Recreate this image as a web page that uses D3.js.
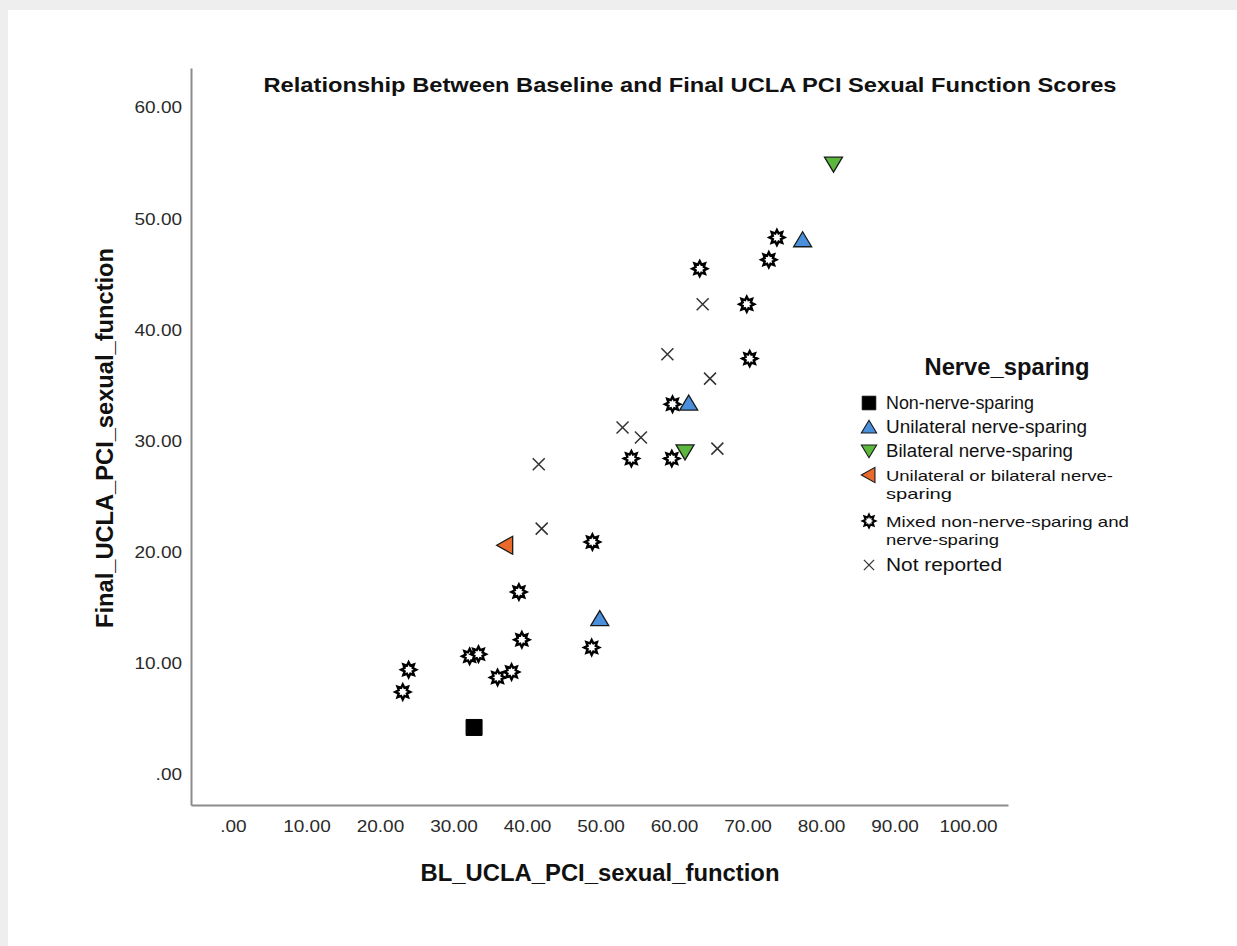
<!DOCTYPE html>
<html>
<head>
<meta charset="utf-8">
<script src="https://cdn.jsdelivr.net/npm/d3@7"></script>
<style>
  html, body { margin: 0; padding: 0; background: #eeeeee; }
  svg { display: block; }
  text { font-family: "Liberation Sans", Arial, sans-serif; }
</style>
</head>
<body>
<svg id="chart" width="1237" height="946"></svg>
<script>
// ---- Data ----
const categories = [
  "Non-nerve-sparing",
  "Unilateral nerve-sparing",
  "Bilateral nerve-sparing",
  "Unilateral or bilateral nerve-sparing",
  "Mixed non-nerve-sparing and nerve-sparing",
  "Not reported"
];
const legendLines = [
  ["Non-nerve-sparing"],
  ["Unilateral nerve-sparing"],
  ["Bilateral nerve-sparing"],
  ["Unilateral or bilateral nerve-", "sparing"],
  ["Mixed non-nerve-sparing and", "nerve-sparing"],
  ["Not reported"]
];
const nonNerveX = [32.8];
const nonNerveY = [4.1];
const unilateralX = [49.9, 62.0, 77.5];
const unilateralY = [13.9, 33.3, 48.0];
const bilateralX = [81.7, 61.5];
const bilateralY = [54.8, 28.9];
const uniOrBiX = [37.1];
const uniOrBiY = [20.5];
const mixedX = [23.1, 23.9, 32.2, 33.4, 36.0, 37.9, 39.3, 38.9, 48.8, 48.9, 54.2, 59.7, 59.8, 63.5, 69.9, 70.3, 72.9, 74.0];
const mixedY = [7.3, 9.3, 10.5, 10.7, 8.6, 9.1, 12.0, 16.3, 11.3, 20.8, 28.3, 28.3, 33.2, 45.4, 42.2, 37.3, 46.2, 48.2];
const notReportedX = [41.6, 42.0, 53.0, 55.5, 59.1, 63.9, 64.9, 65.9];
const notReportedY = [27.8, 22.0, 31.1, 30.2, 37.7, 42.2, 35.5, 29.2];
const xTicks = [0, 10, 20, 30, 40, 50, 60, 70, 80, 90, 100];
const yTicks = [0, 10, 20, 30, 40, 50, 60];
const titleText = "Relationship Between Baseline and Final UCLA PCI Sexual Function Scores";
const xLabel = "BL_UCLA_PCI_sexual_function";
const yLabel = "Final_UCLA_PCI_sexual_function";
const legendTitle = "Nerve_sparing";

const seriesX = [nonNerveX, unilateralX, bilateralX, uniOrBiX, mixedX, notReportedX];
const seriesY = [nonNerveY, unilateralY, bilateralY, uniOrBiY, mixedY, notReportedY];

// ---- Styles ----
const fills = ["#000000", "#4a8fdb", "#5cb83c", "#ea6a2c", "#ffffff", "none"];

const svg = d3.select("#chart");
svg.append("rect").attr("x", 8).attr("y", 10).attr("width", 1229).attr("height", 936).attr("fill", "#ffffff");

const x = d3.scaleLinear().domain([-5.71, 105.44]).range([191, 1008]);
const y = d3.scaleLinear().domain([-2.88, 63.46]).range([805, 68]);

const fmt = d => d === 0 ? ".00" : d.toFixed(2);

// axes
const gx = svg.append("g").attr("transform", "translate(0,805)")
  .call(d3.axisBottom(x).tickValues(xTicks).tickSize(0).tickPadding(15).tickFormat(fmt));
const gy = svg.append("g").attr("transform", "translate(191,0)")
  .call(d3.axisLeft(y).tickValues(yTicks).tickSize(0).tickPadding(9).tickFormat(fmt));
[gx, gy].forEach(g => {
  g.select(".domain").attr("stroke", "#8c8c8c").attr("stroke-width", 2);
  g.selectAll("text").attr("font-size", 19).attr("fill", "#2a2a2a")
    .attr("font-family", "Liberation Sans, Arial, sans-serif")
    .attr("transform", "scale(1,0.9)");
});
gx.selectAll(".tick text").attr("y", 15 / 0.9);
gy.selectAll(".tick text").attr("dy", "0.38em");

// title & labels
svg.append("text").attr("x", 690).attr("y", 92).attr("text-anchor", "middle")
  .attr("font-size", 21).attr("font-weight", "bold").attr("fill", "#111")
  .attr("textLength", 853).attr("lengthAdjust", "spacingAndGlyphs").text(titleText);
svg.append("text").attr("x", 600).attr("y", 881).attr("text-anchor", "middle")
  .attr("font-size", 23).attr("font-weight", "bold").attr("fill", "#111")
  .attr("textLength", 359).attr("lengthAdjust", "spacingAndGlyphs").text(xLabel);
svg.append("text").attr("transform", "translate(113,438) rotate(-90)").attr("text-anchor", "middle")
  .attr("font-size", 23).attr("font-weight", "bold").attr("fill", "#111")
  .attr("textLength", 380).attr("lengthAdjust", "spacingAndGlyphs").text(yLabel);

// marker shapes
function starPath(ro, ri, n) {
  const pts = [];
  for (let i = 0; i < 2 * n; i++) {
    const r = i % 2 === 0 ? ro : ri;
    const a = Math.PI * i / n - Math.PI / 2;
    pts.push([r * Math.cos(a), r * Math.sin(a)]);
  }
  return "M" + pts.map(p => p[0].toFixed(2) + "," + p[1].toFixed(2)).join("L") + "Z";
}
const shapes = [
  "M-8,-8L8,-8L8,8L-8,8Z",
  "M0,-8L9,7L-9,7Z",
  "M-9,-7L9,-7L0,8Z",
  "M-9,0L7,-9L7,9Z",
  starPath(7.5, 4.4, 8),
  "M-6,-6L6,6M-6,6L6,-6"
];
const strokes = ["#000", "#1a1a1a", "#1a1a1a", "#1a1a1a", "#000", "#333"];
const strokeW = [1, 1.3, 1.3, 1.3, 2.4, 1.5];

function drawMarker(g, i) {
  if (i === 4) {
    g.append("path").attr("d", shapes[4]).attr("fill", "#fff").attr("stroke", "#000").attr("stroke-width", 2.4).attr("stroke-linejoin", "miter");
    g.append("circle").attr("r", 2.2).attr("fill", "#fff");
  } else {
    g.append("path").attr("d", shapes[i]).attr("fill", fills[i]).attr("stroke", strokes[i]).attr("stroke-width", strokeW[i]);
  }
}

// points
const order = [5, 4, 0, 3, 1, 2];
order.forEach(i => {
  const data = seriesX[i].map((vx, k) => ({ x: vx, y: seriesY[i][k] }));
  const g = svg.append("g").attr("class", "series-" + i);
  g.selectAll("g.pt").data(data).join("g").attr("class", "pt")
    .attr("transform", d => `translate(${x(d.x)},${y(d.y)})`)
    .each(function () { drawMarker(d3.select(this), i); });
});

// legend
const lg = svg.append("g");
lg.append("text").attr("x", 1007).attr("y", 375).attr("text-anchor", "middle")
  .attr("font-size", 23).attr("font-weight", "bold").attr("fill", "#111")
  .attr("textLength", 165).attr("lengthAdjust", "spacingAndGlyphs").text(legendTitle);
const itemY = [403, 427, 451, 475, 521, 565];
const lineLens = [[148], [201], [187], [227, 66], [243, 113], [116]];
categories.forEach((c, i) => {
  const mg = lg.append("g").attr("transform", `translate(869,${itemY[i]}) scale(0.85)`);
  drawMarker(mg, i);
  const multi = legendLines[i].length > 1;
  legendLines[i].forEach((ln, k) => {
    lg.append("text").attr("x", 886).attr("y", itemY[i] + 6 + k * 18 - (multi ? 0.5 : 0))
      .attr("font-size", multi ? 15 : 17.5).attr("fill", "#111")
      .attr("transform", multi ? null : null)
      .attr("textLength", lineLens[i][k]).attr("lengthAdjust", "spacingAndGlyphs")
      .text(ln);
  });
});
</script>
</body>
</html>
